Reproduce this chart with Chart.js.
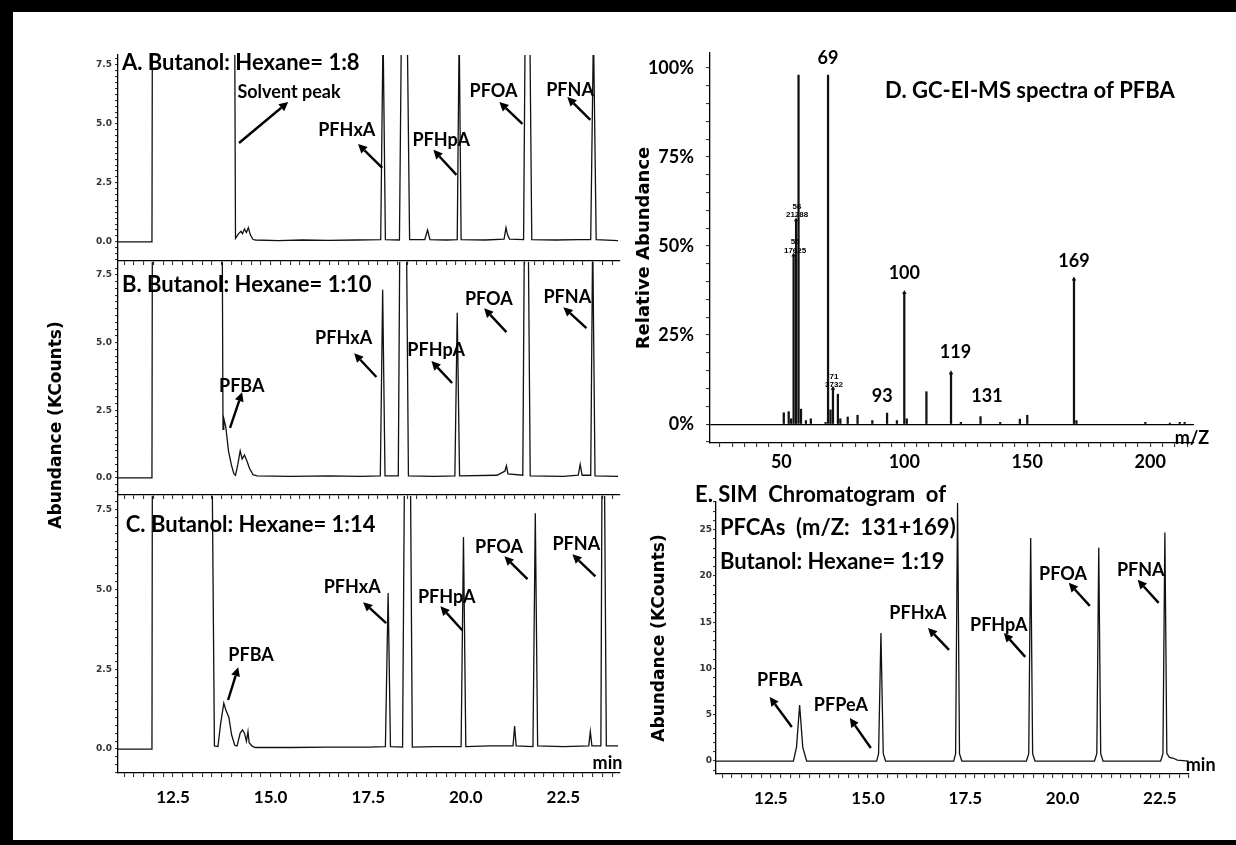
<!DOCTYPE html>
<html lang="en">
<head>
<meta charset="utf-8">
<title>PFCA GC-MS chromatograms</title>
<script src="https://cdn.jsdelivr.net/npm/chart.js@4.4.1/dist/chart.umd.min.js"></script>
<style>
  body { margin: 0; background: #fff; }
  #fig { position: relative; width: 1236px; height: 845px; overflow: hidden; background: #fff; }
  #fig canvas { position: absolute; left: 0; top: 0; }
  #frame {
    position: absolute; left: 0; top: 0; width: 1236px; height: 845px; box-sizing: border-box;
    border-top: 12px solid #000; border-left: 13px solid #000; border-bottom: 5px solid #000;
    pointer-events: none;
  }
  #ylab {
    position: absolute; left: 55px; top: 425px; transform: translate(-50%, -50%) rotate(-90deg);
    font: bold 17px "DejaVu Sans"; white-space: nowrap; color: #000;
  }
</style>
</head>
<body>
<div id="fig">
  <canvas id="panelA" width="1236" height="845"></canvas>
  <canvas id="panelB" width="1236" height="845"></canvas>
  <canvas id="panelC" width="1236" height="845"></canvas>
  <canvas id="panelD" width="1236" height="845"></canvas>
  <canvas id="panelE" width="1236" height="845"></canvas>
  <div id="ylab">Abundance (KCounts)</div>
  <div id="frame"></div>
</div>
<script>
// retention time (min) and abundance (KCounts); 9 = signal above the plotted range
const timeA = [11.09, 11.96, 11.97, 14.08, 14.1, 14.18, 14.24, 14.28, 14.33, 14.38, 14.43, 14.48, 14.55, 14.62, 15.2, 15.8, 16.5, 17.2,
  17.82, 17.88, 17.94, 18.3, 18.35, 18.5, 18.56, 18.95, 19.02, 19.08, 19.5, 19.78, 19.83, 19.88, 20.5, 20.98, 21.03, 21.07, 21.12,
  21.48, 21.52, 21.64, 21.69, 22.3, 22.9, 23.2, 23.27, 23.34, 23.9];
const signalA = [0, 0, 9, 9, 0.15, 0.35, 0.45, 0.35, 0.55, 0.4, 0.6, 0.3, 0.1, 0.08, 0.05, 0.08, 0.06, 0.08,
  0.1, 9, 0.1, 0.08, 9, 9, 0.1, 0.1, 0.5, 0.1, 0.08, 0.1, 9, 0.1, 0.08, 0.12, 0.6, 0.3, 0.12,
  0.1, 9, 9, 0.1, 0.08, 0.1, 0.1, 9, 0.1, 0.05];

const timeB = [11.09, 11.96, 11.97, 13.76, 13.78, 13.8, 13.85, 13.92, 14.0, 14.06, 14.1, 14.16, 14.22, 14.27, 14.33, 14.4, 14.46, 14.5,
  14.55, 14.65, 15.5, 16.5, 17.3, 17.81, 17.87, 17.93, 18.27, 18.31, 18.48, 18.53, 19.2, 19.72, 19.78, 19.84, 20.8, 21.0, 21.04,
  21.08, 21.46, 21.5, 21.6, 21.65, 22.5, 22.88, 22.93, 22.98, 23.2, 23.25, 23.31, 23.9];
const signalB = [0, 0, 9, 9, 1.8, 2.2, 1.9, 1.0, 0.45, 0.15, 0.1, 0.5, 1.0, 0.7, 0.85, 0.6, 0.35, 0.25,
  0.12, 0.08, 0.06, 0.08, 0.06, 0.08, 6.95, 0.08, 0.08, 9, 9, 0.08, 0.06, 0.08, 6.1, 0.08, 0.1, 0.25, 0.45,
  0.15, 0.1, 9, 9, 0.08, 0.06, 0.1, 0.5, 0.1, 0.1, 9, 0.08, 0.06];

const timeC = [11.09, 11.96, 11.97, 13.5, 13.56, 13.65, 13.72, 13.8, 13.86, 13.93, 14.0, 14.08, 14.14, 14.22, 14.28, 14.33, 14.38, 14.42,
  14.45, 14.52, 14.6, 15.5, 16.5, 17.5, 17.94, 18.01, 18.07, 18.38, 18.43, 18.58, 18.63, 19.2, 19.88, 19.94, 20.0, 20.6, 21.21,
  21.25, 21.29, 21.72, 21.78, 21.84, 22.5, 23.15, 23.19, 23.23, 23.46, 23.49, 23.55, 23.6, 23.9];
const signalC = [0, 0, 9, 9, 0.1, 0.08, 0.8, 1.44, 1.2, 1.0, 0.45, 0.12, 0.1, 0.5, 0.6, 0.5, 0.25, 0.55,
  0.2, 0.1, 0.05, 0.05, 0.06, 0.06, 0.08, 4.9, 0.08, 0.06, 9, 9, 0.06, 0.08, 0.08, 6.65, 0.08, 0.1, 0.1,
  0.72, 0.1, 0.08, 7.4, 0.1, 0.08, 0.1, 0.55, 0.1, 0.1, 9, 9, 0.1, 0.1];

// SIM chromatogram, m/Z 131+169
const timeE = [11.09, 13.08, 13.16, 13.24, 13.32, 13.42, 15.22, 15.27, 15.33, 15.39, 15.45, 17.2, 17.25, 17.3, 17.35, 17.41,
  19.07, 19.13, 19.18, 19.23, 19.29, 20.82, 20.88, 20.93, 20.98, 21.04, 22.52, 22.58, 22.63, 22.68, 22.75, 22.85, 22.95, 23.24];
const signalE = [0, 0, 1.5, 6.06, 1.5, 0, 0, 0.8, 13.85, 0.8, 0, 0, 0.8, 27.9, 0.8, 0,
  0, 0.8, 24.1, 0.8, 0, 0, 0.8, 23.05, 0.8, 0, 0, 0.8, 24.7, 0.8, 0.4, 0.3, 0.1, 0];

// EI mass spectrum of PFBA: m/z and relative abundance (%)
const mzD = [51, 53, 54, 57, 58, 60, 62, 68, 69, 70, 73, 74, 77, 81, 87, 93, 97, 100, 101, 109, 119, 123, 131, 139, 147, 150,
  169, 170, 198, 208, 212, 214];
const abundD = [3.2, 3.5, 1.5, 98, 4.2, 1, 1.5, 0.5, 98, 4, 8.4, 1.5, 2, 2.5, 1, 3.1, 1, 36.9, 1.5, 9.1, 14.4, 0.5, 2.1, 0.5, 1.4, 2.5,
  40.7, 1, 0.5, 0.3, 0.5, 0.5];
// ions printed with their counts
const countedMz = [55, 56, 71];
const countedIons = [17625, 21288, 3732];
const fullScaleCounts = 37150;
const markedMz = [55, 56, 71, 100, 119, 169];

const LABEL = 'bold 18px Lato';
const TITLE = 'bold 22px Lato';
const TINY = 'bold 8px "Liberation Sans"';

// peak names and arrows, placed in data units of each panel
const notes = {
  panelA: [
    { text: 'A. Butanol: Hexane= 1:8', x: 11.19, y: 7.58, font: TITLE, align: 'left' },
    { text: 'Solvent peak', x: 15.47, y: 6.36, arrow: [14.19, 4.19, 15.45, 5.93] },
    { text: 'PFHxA', x: 16.95, y: 4.75, arrow: [17.86, 3.14, 17.24, 4.15] },
    { text: 'PFHpA', x: 19.37, y: 4.32, arrow: [19.76, 2.84, 19.17, 3.9] },
    { text: 'PFOA', x: 20.71, y: 6.4, arrow: [21.45, 5.0, 20.86, 5.93] },
    { text: 'PFNA', x: 22.67, y: 6.44, arrow: [23.19, 5.17, 22.6, 6.14] }
  ],
  panelB: [
    { text: 'B. Butanol: Hexane= 1:10', x: 11.19, y: 7.12, font: TITLE, align: 'left' },
    { text: 'PFBA', x: 14.26, y: 3.39, arrow: [13.96, 1.85, 14.27, 3.17] },
    { text: 'PFHxA', x: 16.87, y: 5.17, arrow: [17.71, 3.73, 17.14, 4.61] },
    { text: 'PFHpA', x: 19.24, y: 4.72, arrow: [19.65, 3.51, 19.12, 4.32] },
    { text: 'PFOA', x: 20.59, y: 6.61, arrow: [21.04, 5.39, 20.47, 6.27] },
    { text: 'PFNA', x: 22.6, y: 6.68, arrow: [23.09, 5.54, 22.5, 6.31] }
  ],
  panelC: [
    { text: 'C. Butanol: Hexane= 1:14', x: 11.29, y: 7.02, font: TITLE, align: 'left' },
    { text: 'PFBA', x: 14.5, y: 2.95, arrow: [13.91, 1.54, 14.17, 2.57] },
    { text: 'PFHxA', x: 17.09, y: 5.08, arrow: [17.96, 3.95, 17.37, 4.61] },
    { text: 'PFHpA', x: 19.51, y: 4.76, arrow: [19.91, 3.73, 19.35, 4.48] },
    { text: 'PFOA', x: 20.85, y: 6.33, arrow: [21.58, 5.33, 20.99, 6.05] },
    { text: 'PFNA', x: 22.83, y: 6.43, arrow: [23.32, 5.42, 22.73, 6.11] },
    { text: 'min', x: 23.63, y: -0.44 }
  ],
  panelD: [
    { text: 'D. GC-EI-MS spectra of PFBA', x: 92.2, y: 93.5, font: TITLE, align: 'left' },
    { text: '69', x: 69, y: 102.8 },
    { text: '100', x: 100, y: 42.4 },
    { text: '169', x: 169, y: 45.8 },
    { text: '119', x: 120.8, y: 20.2 },
    { text: '93', x: 91, y: 7.9 },
    { text: '131', x: 133.6, y: 7.9 },
    { text: '56', x: 56.4, y: 61.0, font: TINY },
    { text: '21288', x: 56.4, y: 58.7, font: TINY },
    { text: '55', x: 55.6, y: 51.1, font: TINY },
    { text: '17625', x: 55.6, y: 48.6, font: TINY },
    { text: '71', x: 71.4, y: 13.2, font: TINY },
    { text: '3732', x: 71.4, y: 11.0, font: TINY },
    { text: 'm/Z', x: 217, y: -3.9 }
  ],
  panelE: [
    { text: 'E. SIM  Chromatogram  of', x: 10.55, y: 28.8, font: TITLE, align: 'left' },
    { text: 'PFCAs  (m/Z:  131+169)', x: 11.19, y: 25.2, font: TITLE, align: 'left' },
    { text: 'Butanol: Hexane= 1:19', x: 11.19, y: 21.5, font: TITLE, align: 'left' },
    { text: 'PFBA', x: 12.73, y: 8.77, arrow: [13.04, 3.68, 12.47, 6.93] },
    { text: 'PFPeA', x: 14.3, y: 6.06, arrow: [15.07, 1.41, 14.53, 4.65] },
    { text: 'PFHxA', x: 16.28, y: 16.02, arrow: [17.08, 12.01, 16.54, 14.39] },
    { text: 'PFHpA', x: 18.36, y: 14.72, arrow: [19.04, 11.26, 18.49, 13.85] },
    { text: 'PFOA', x: 20.01, y: 20.24, arrow: [20.7, 16.77, 20.16, 19.26] },
    { text: 'PFNA', x: 22.01, y: 20.67, arrow: [22.47, 17.1, 21.93, 19.59] },
    { text: 'min', x: 23.55, y: -0.43 }
  ]
};

function drawArrow(ctx, x1, y1, x2, y2) {
  const a = Math.atan2(y2 - y1, x2 - x1);
  const len = 9, half = 4.5;
  const bx = x2 - len * Math.cos(a), by = y2 - len * Math.sin(a);
  ctx.lineWidth = 2.4;
  ctx.beginPath();
  ctx.moveTo(x1, y1);
  ctx.lineTo(bx, by);
  ctx.stroke();
  ctx.beginPath();
  ctx.moveTo(x2, y2);
  ctx.lineTo(bx + half * Math.sin(a), by - half * Math.cos(a));
  ctx.lineTo(bx - half * Math.sin(a), by + half * Math.cos(a));
  ctx.closePath();
  ctx.fill();
}

Chart.register({
  id: 'notes',
  afterDatasetsDraw(chart) {
    const list = notes[chart.canvas.id] || [];
    const { ctx } = chart;
    const sx = chart.scales.x, sy = chart.scales.y;
    ctx.save();
    ctx.fillStyle = '#000';
    ctx.strokeStyle = '#000';
    ctx.textBaseline = 'middle';
    list.forEach(function (n) {
      ctx.font = n.font || LABEL;
      ctx.textAlign = n.align || 'center';
      ctx.fillText(n.text, sx.getPixelForValue(n.x), sy.getPixelForValue(n.y));
      if (n.arrow) {
        drawArrow(ctx, sx.getPixelForValue(n.arrow[0]), sy.getPixelForValue(n.arrow[1]),
          sx.getPixelForValue(n.arrow[2]), sy.getPixelForValue(n.arrow[3]));
      }
    });
    ctx.restore();
  }
});

Chart.defaults.font.family = 'Lato';
Chart.defaults.color = '#000';

function fixSize(px) {
  return function (scale) {
    if (scale.isHorizontal()) scale.height = px; else scale.width = px;
  };
}

function onStep(v, step) {
  return Math.abs(v / step - Math.round(v / step)) < 1e-6;
}

function axis(o) {
  return {
    type: 'linear',
    min: o.min,
    max: o.max,
    offset: false,
    afterFit: fixSize(o.size),
    border: { color: '#000', width: 1.3 },
    grid: {
      offset: false,
      drawOnChartArea: !!o.zeroLine,
      color: (c) => (o.zeroLine && c.tick && c.tick.value === 0 ? '#000' : 'rgba(0,0,0,0)'),
      lineWidth: 1.2,
      tickLength: o.tickLength || 4,
      tickColor: '#222',
      tickWidth: 1
    },
    title: o.title || { display: false },
    ticks: {
      stepSize: o.step,
      autoSkip: false,
      includeBounds: false,
      maxRotation: 0,
      display: o.labels !== false,
      padding: o.padding,
      font: o.font,
      color: o.color || '#000',
      callback: (v) => (onStep(v, o.major) ? o.format(v) : '')
    }
  };
}

const baseOptions = (padding, scales) => ({
  responsive: false,
  animation: false,
  devicePixelRatio: 1,
  layout: { padding: padding },
  plugins: { legend: { display: false }, tooltip: { enabled: false } },
  scales: scales
});

const smallTick = { family: 'DejaVu Sans', size: 9, weight: 'bold' };
const bigTick = { family: 'Lato', size: 17, weight: 'bold' };

function chromatogram(id, time, signal, c) {
  const points = time.map((t, i) => ({ x: t, y: signal[i] }));
  return new Chart(document.getElementById(id), {
    type: 'scatter',
    data: {
      datasets: [{ data: points, showLine: true, borderColor: '#111', borderWidth: 1.3, pointRadius: 0, tension: 0 }]
    },
    options: baseOptions(c.padding, {
      x: axis({ min: c.xMin, max: c.xMax, size: c.xSize, step: 0.25, major: 2.5, labels: c.xLabels,
        padding: 10, font: bigTick, format: (v) => v.toFixed(1) }),
      y: axis({ min: c.yMin, max: c.yMax, size: c.ySize, step: c.yStep, major: c.yMajor, padding: c.yPad,
        tickLength: 3, font: smallTick, color: '#333', format: c.yFormat, title: c.yTitle })
    })
  });
}

const fmt1 = (v) => v.toFixed(1);

chromatogram('panelA', timeA, signalA, {
  padding: { left: 78, right: 616, top: 55, bottom: 579 },
  xMin: 11.09, xMax: 23.95, xSize: 5, xLabels: false,
  yMin: -0.81, yMax: 7.92, ySize: 40, yStep: 0.25, yMajor: 2.5, yPad: 3, yFormat: fmt1
});
chromatogram('panelB', timeB, signalB, {
  padding: { left: 78, right: 616, top: 262, bottom: 345 },
  xMin: 11.09, xMax: 23.95, xSize: 5, xLabels: false,
  yMin: -0.63, yMax: 7.98, ySize: 40, yStep: 0.25, yMajor: 2.5, yPad: 3, yFormat: fmt1
});
chromatogram('panelC', timeC, signalC, {
  padding: { left: 78, right: 616, top: 496, bottom: 32 },
  xMin: 11.09, xMax: 23.95, xSize: 40, xLabels: true,
  yMin: -0.75, yMax: 7.94, ySize: 40, yStep: 0.25, yMajor: 2.5, yPad: 3, yFormat: fmt1
});
chromatogram('panelE', timeE, signalE, {
  padding: { left: 640, right: 47, top: 502, bottom: 31 },
  xMin: 11.09, xMax: 23.25, xSize: 40, xLabels: true,
  yMin: -1.4, yMax: 28.0, ySize: 76, yStep: 1, yMajor: 5, yPad: 1, yFormat: (v) => String(v),
  yTitle: { display: true, text: 'Abundance (KCounts)', padding: { top: 9, bottom: 0 },
    font: { family: 'DejaVu Sans', size: 17, weight: 'bold' }, color: '#000' }
});

// mass spectrum sticks, with the counted ions scaled to relative abundance
const spectrum = mzD.map((m, i) => ({ x: m, y: abundD[i] }))
  .concat(countedMz.map((m, i) => ({ x: m, y: countedIons[i] / fullScaleCounts * 100 })))
  .sort((p, q) => p.x - q.x);
const markers = markedMz.map((m) => spectrum.find((p) => p.x === m));

new Chart(document.getElementById('panelD'), {
  type: 'bar',
  data: {
    datasets: [
      { type: 'scatter', data: markers, pointStyle: 'triangle', pointRadius: 2.6, backgroundColor: '#111',
        borderWidth: 0, order: 1 },
      { type: 'bar', data: spectrum, backgroundColor: '#111', barThickness: 1.6, order: 2 }
    ]
  },
  options: baseOptions({ left: 630, right: 42, top: 53, bottom: 366 }, {
    x: axis({ min: 21, max: 217.8, size: 36, step: 5, major: 50, padding: 4,
      font: { family: 'Lato', size: 18, weight: 'bold' }, format: (v) => String(v) }),
    y: axis({ min: -5.3, max: 104.2, size: 80, step: 5, major: 25, padding: 12, zeroLine: true,
      font: { family: 'Lato', size: 18, weight: 'bold' }, format: (v) => v + '%',
      title: { display: true, text: 'Relative Abundance', padding: { top: 4, bottom: 0 },
        font: { family: 'DejaVu Sans', size: 18, weight: 'bold' }, color: '#000' } })
  })
});
</script>
</body>
</html>
